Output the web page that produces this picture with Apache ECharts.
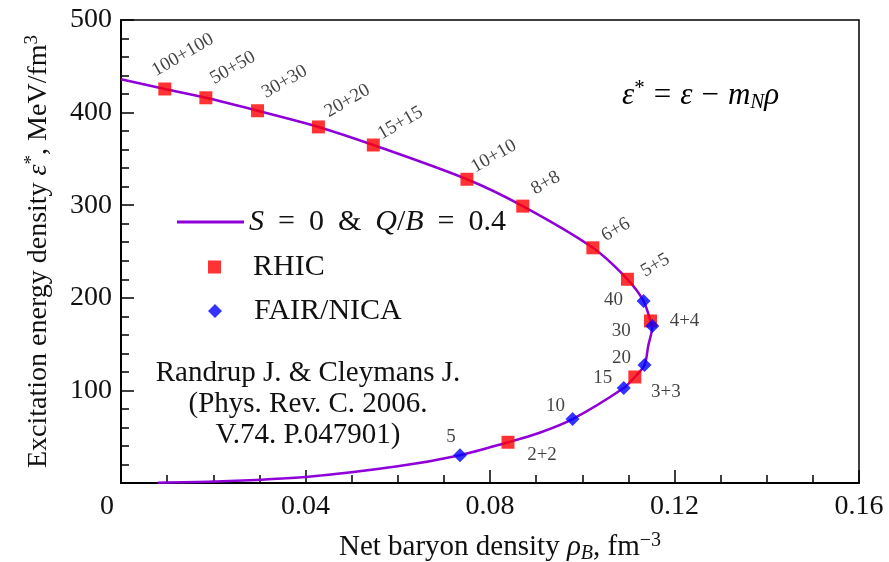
<!DOCTYPE html>
<html><head><meta charset="utf-8">
<script src="https://cdn.jsdelivr.net/npm/echarts@6/dist/echarts.min.js"></script>
<style>html,body{margin:0;padding:0;background:#fff}#c{width:889px;height:562px}</style>
</head><body><div id="c"></div>
<script>
// ---- data ----
const curveX = [0, 0.0095, 0.0184, 0.0296, 0.0428, 0.0547, 0.0750, 0.0871, 0.1023, 0.1098, 0.1133, 0.1148, 0.1152, 0.1143, 0.1135, 0.1114, 0.1090, 0.0979, 0.0906, 0.0839, 0.0735, 0.0600, 0.0400, 0.0200, 0.0080];
const curveY = [436, 425.5, 416, 402, 384.5, 365, 328, 299, 254, 220, 196.5, 175, 169.5, 148, 127.4, 114.5, 102.6, 69, 54, 44, 30, 18, 6.5, 1.5, 0.3];
const rhicNames = ['100+100','50+50','30+30','20+20','15+15','10+10','8+8','6+6','5+5','4+4','3+3','2+2'];
const rhicX = [0.0095, 0.0184, 0.0296, 0.0428, 0.0547, 0.0750, 0.0871, 0.1023, 0.1098, 0.1148, 0.1114, 0.0839];
const rhicY = [425.5, 416, 402, 384.5, 365, 328, 299, 254, 220, 175, 114.5, 44];
const fairNames = ['40','30','20','15','10','5'];
const fairX = [0.1133, 0.1152, 0.1135, 0.1090, 0.0979, 0.0735];
const fairY = [196.5, 169.5, 127.4, 102.6, 69, 30];
const xTicks = [0, 0.04, 0.08, 0.12, 0.16];
const yTicks = [0, 100, 200, 300, 400, 500];

// ---- styles ----
const FONT = '"Liberation Serif", "Times New Roman", serif';
const LINE_COLOR = '#8f00d8';
const SQ = 13, DM = 14;
const rhicLabelPos = [[18,-34,30],[27,-30,30],[27,-29,30],[29,-26,30],[27,-22,30],[27,-23,30],[23,-23,30],[23,-18,30],[28,-14,30],[34,0,0],[31,15,0],[34,13,0]];
const fairLabelPos = [[-30,-1],[-31,5],[-23,-7],[-21,-10],[-17,-13],[-9,-18]];

function rs(size, extra) { return Object.assign({fontFamily: FONT, fontSize: size, color: '#111'}, extra || {}); }
function richSet(size) {
  return {
    n: rs(size),
    i: rs(size, {fontStyle: 'italic'}),
    op: rs(size, {padding: [0, Math.round(size*0.3), 0, Math.round(size*0.3)]}),
    op2: rs(size, {padding: [0, Math.round(size*0.45), 0, Math.round(size*0.45)]}),
    sub: rs(Math.round(size*0.68), {fontStyle: 'italic', verticalAlign: 'bottom', padding: [Math.round(size*0.45),0,0,0]}),
    sup: rs(Math.round(size*0.68), {verticalAlign: 'top', padding: [0,0,Math.round(size*0.45),0]}),
    z: rs(size, {padding: [0, 28, 0, 0]}),
    pl: rs(size, {padding: [0, 0, 0, 27]})
  };
}

const lineData = curveX.map((x, k) => [x, curveY[k]]);
const rhicData = rhicX.map((x, k) => ({
  name: rhicNames[k], value: [x, rhicY[k]],
  label: {position: [SQ/2 + rhicLabelPos[k][0], SQ/2 + rhicLabelPos[k][1]], rotate: rhicLabelPos[k][2]}
}));
const fairData = fairX.map((x, k) => ({
  name: fairNames[k], value: [x, fairY[k]],
  label: {position: [DM/2 + fairLabelPos[k][0], DM/2 + fairLabelPos[k][1]]}
}));

const ptLabel = {show: true, formatter: '{b}', align: 'center', verticalAlign: 'middle', fontFamily: FONT, fontSize: 19, color: '#111'};
const LEG_LINE = 'S = 0 & Q/B = 0.4';
const legText = {fontFamily: FONT, fontSize: 30, color: '#111', rich: richSet(30)};

const chart = echarts.init(document.getElementById('c'), null, {renderer: 'canvas'});
chart.setOption({
  animation: false,
  backgroundColor: '#fff',
  grid: {left: 121, right: 30, top: 20, bottom: 79, outerBoundsMode: 'none', containLabel: false,
         show: true, borderColor: '#000', borderWidth: 1.5, backgroundColor: 'transparent'},
  xAxis: {
    type: 'value', min: xTicks[0], max: xTicks[xTicks.length-1], interval: xTicks[1]-xTicks[0],
    axisLine: {lineStyle: {color: '#000', width: 2}},
    axisTick: {inside: true, length: 13, lineStyle: {color: '#000', width: 1.5}},
    minorTick: {show: true, splitNumber: 4, length: 8, lineStyle: {color: '#000', width: 1.5}},
    splitLine: {show: false},
    axisLabel: {fontFamily: FONT, fontSize: 28, color: '#111', margin: 10, rich: richSet(28),
      formatter: v => v === 0 ? '{z|0}' : v.toFixed(2)},
    name: '{n|Net baryon density }{i|ρ}{sub|B}{n|, fm}{sup|−3}',
    nameLocation: 'middle', nameGap: 48,
    nameTextStyle: {fontFamily: FONT, fontSize: 29, color: '#111', rich: richSet(29), padding: [0, 0, 0, 20]}
  },
  yAxis: {
    type: 'value', min: yTicks[0], max: yTicks[yTicks.length-1], interval: yTicks[1]-yTicks[0],
    axisLine: {lineStyle: {color: '#000', width: 2}},
    axisTick: {inside: true, length: 13, lineStyle: {color: '#000', width: 1.5}},
    minorTick: {show: true, splitNumber: 5, length: 8, lineStyle: {color: '#000', width: 1.5}},
    splitLine: {show: false},
    axisLabel: {fontFamily: FONT, fontSize: 28, color: '#111', margin: 9,
      formatter: v => v === 0 ? '' : String(v)},
    name: '{n|Excitation energy density }{i|ε}{sup|*}{n|, MeV/fm}{sup|3}',
    nameLocation: 'middle', nameGap: 66, nameRotate: 90,
    nameTextStyle: {fontFamily: FONT, fontSize: 28, color: '#111', rich: richSet(28)}
  },
  legend: [
    {orient: 'vertical', left: 172, top: 202, itemWidth: 67, itemHeight: 3, symbolKeepAspect: false,
     data: [{name: LEG_LINE, icon: 'rect'}], textStyle: legText,
     formatter: () => '{i|S}{op2|=}{n|0}{op2|&}{i|Q}{n|/}{i|B}{op2|=}{n|0.4}'},
    {orient: 'vertical', left: 203, top: 247, itemWidth: SQ, itemHeight: SQ,
     data: [{name: 'RHIC', icon: 'rect'}], textStyle: legText, formatter: n => '{pl|' + n + '}'},
    {orient: 'vertical', left: 203, top: 291, itemWidth: DM, itemHeight: DM,
     data: [{name: 'FAIR/NICA', icon: 'diamond'}], textStyle: legText, formatter: n => '{pl|' + n + '}'}
  ],
  graphic: [
    {type: 'text', left: 622, top: 78, style: {
      text: '{i|ε}{sup|*}{op|=}{i|ε}{op|−}{i|m}{sub|N}{i|ρ}', rich: richSet(31), font: '31px ' + FONT}},
    {type: 'text', x: 308, y: 358, style: {
      text: 'Randrup J. & Cleymans J.\n(Phys. Rev. C. 2006.\nV.74. P.047901)',
      align: 'center', fontFamily: FONT, fontSize: 29, lineHeight: 31, fill: '#111'}}
  ],
  series: [
    {name: LEG_LINE, type: 'line', data: lineData, smooth: 0.3, symbol: 'none',
     lineStyle: {color: LINE_COLOR, width: 2.5}, itemStyle: {color: LINE_COLOR}, z: 2},
    {name: 'RHIC', type: 'scatter', data: rhicData, symbol: 'rect', symbolSize: SQ,
     itemStyle: {color: '#ff0000'}, label: ptLabel, z: 3},
    {name: 'FAIR/NICA', type: 'scatter', data: fairData, symbol: 'diamond', symbolSize: DM,
     itemStyle: {color: '#0000ff'}, label: ptLabel, z: 4}
  ]
});
</script></body></html>
